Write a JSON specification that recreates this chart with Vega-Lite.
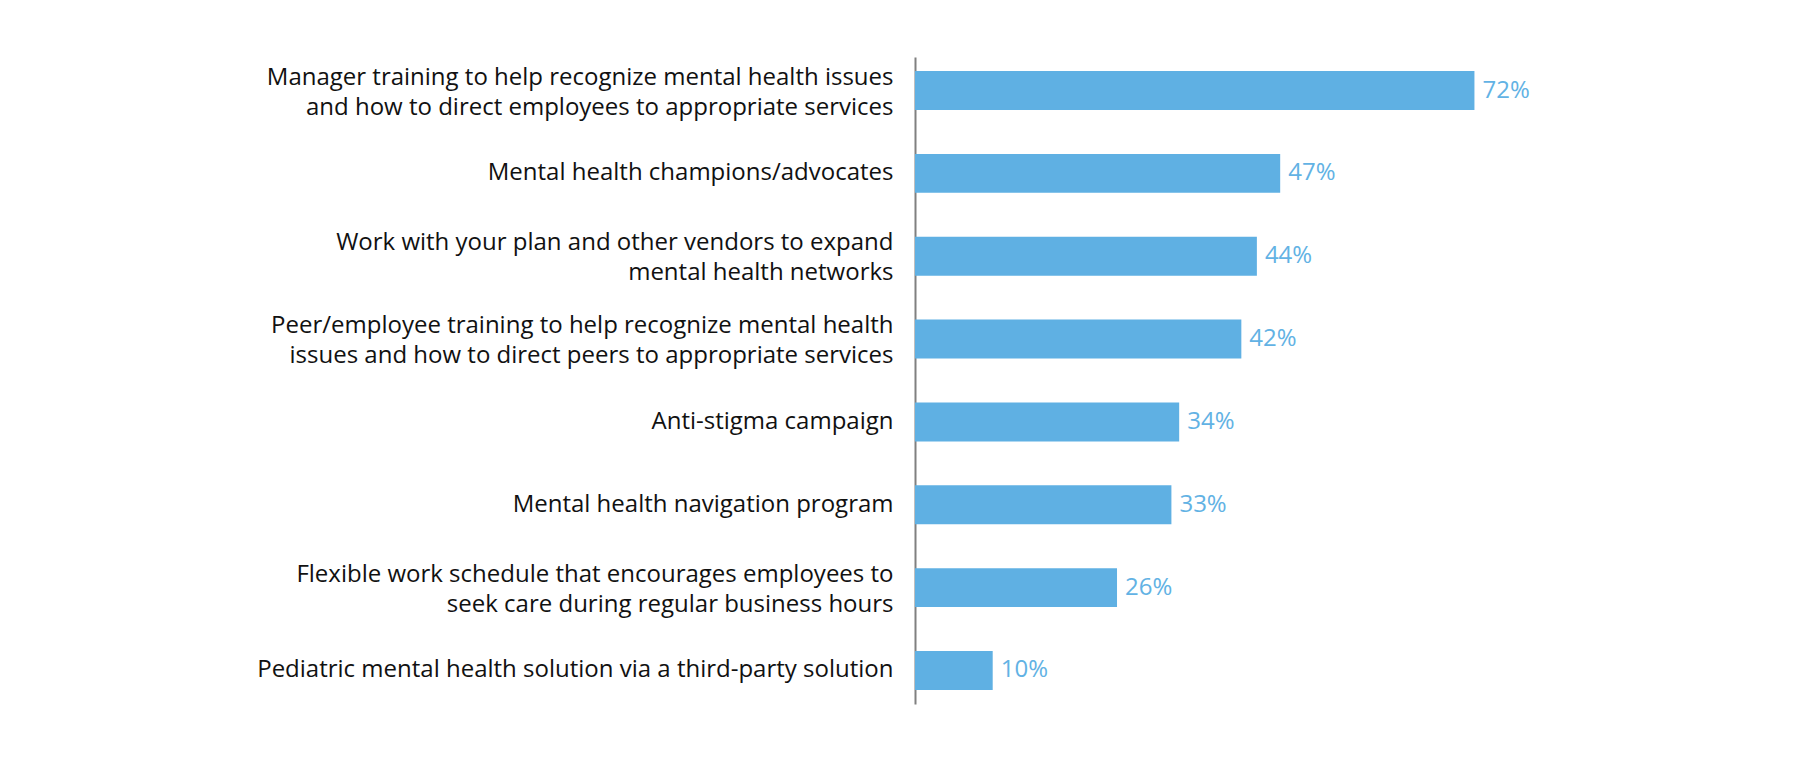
{
  "$schema": "https://vega.github.io/schema/vega-lite/v6.json",
  "autosize": "none",
  "width": 777,
  "height": 647,
  "padding": {"left": 915, "top": 57, "right": 108, "bottom": 55},
  "background": "white",
  "config": {"view": {"stroke": null}, "font": "Open Sans"},
  "data": {
    "values": [
      {"item": "Manager training to help recognize mental health issues|and how to direct employees to appropriate services", "share": 0.72},
      {"item": "Mental health champions/advocates", "share": 0.47},
      {"item": "Work with your plan and other vendors to expand|mental health networks", "share": 0.44},
      {"item": "Peer/employee training to help recognize mental health|issues and how to direct peers to appropriate services", "share": 0.42},
      {"item": "Anti-stigma campaign", "share": 0.34},
      {"item": "Mental health navigation program", "share": 0.33},
      {"item": "Flexible work schedule that encourages employees to|seek care during regular business hours", "share": 0.26},
      {"item": "Pediatric mental health solution via a third-party solution", "share": 0.10}
    ]
  },
  "encoding": {
    "y": {
      "field": "item",
      "type": "nominal",
      "sort": null,
      "scale": {"paddingInner": 0.53, "paddingOuter": 0.17},
      "axis": {
        "title": null,
        "ticks": false,
        "domainColor": "#808080",
        "domainWidth": 2,
        "labelExpr": "split(datum.label, '|')",
        "labelFont": "Open Sans",
        "labelFontSize": 24,
        "labelColor": "#111111",
        "labelLineHeight": 30,
        "labelPadding": 22,
        "labelLimit": 900,
        "labelOffset": {"condition": {"test": "indexof(datum.label, '|') >= 0", "value": -13}, "value": 0}
      }
    },
    "x": {
      "field": "share",
      "type": "quantitative",
      "scale": {"domain": [0, 1]},
      "axis": null
    }
  },
  "layer": [
    {"mark": {"type": "bar", "color": "#5FB0E3"}},
    {
      "mark": {"type": "text", "align": "left", "baseline": "middle", "dx": 8, "font": "Open Sans", "fontSize": 24, "color": "#62B2E4"},
      "encoding": {"text": {"field": "share", "type": "quantitative", "format": ".0%"}}
    }
  ]
}
